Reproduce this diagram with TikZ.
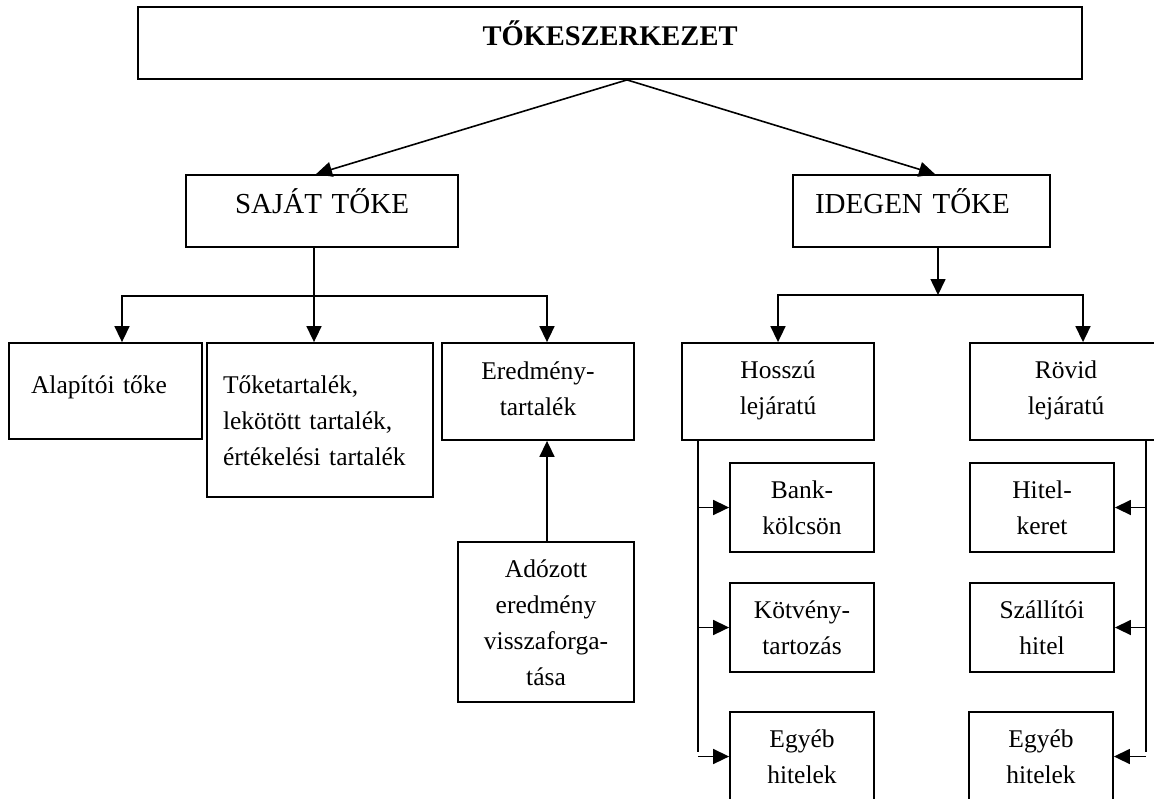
\documentclass[tikz,border=0pt]{standalone}
\usepackage{fontspec}
\setmainfont{Liberation Serif}
\usetikzlibrary{arrows.meta}
\tikzstyle{box} = [rectangle, draw=black, line width=0.9pt, inner sep=0pt, font=\fontsize{12.75}{18}\selectfont]
\tikzstyle{head} = [box, font=\fontsize{14.5}{18}\selectfont]
\tikzstyle{line} = [line width=0.8pt]
\tikzstyle{arrow} = [line width=0.8pt, -{Triangle[length=8pt,width=7.5pt]}]

\begin{document}
\begin{tikzpicture}[x=0.5pt, y=-0.5pt]
		\clip (0,0) rectangle (1154,798);
		% top levels
		\node (tokeszerkezet) [head, font=\bfseries\fontsize{14.25}{18}\selectfont, minimum width=472pt, text width=472pt, align=center, text height=19pt, text depth=17pt] at (610,43) {TŐKESZERKEZET};
		\node (sajat) [head, minimum width=136pt, text width=136pt, align=center, text height=19pt, text depth=17pt] at (322,211) {SAJÁT TŐKE};
		\node (idegen) [head, minimum width=128.5pt, text width=106.5pt, align=left, text height=19pt, text depth=17pt] at (921.5,211) {IDEGEN TŐKE};
		% saját tőke
		\node (alapitoi) [box, minimum width=96.5pt, text width=74.5pt, align=left, text height=25pt, text depth=23pt] at (105.5,391) {Alapítói tőke};
		\node (toketart) [box, minimum width=113pt, text width=97pt, align=left, text height=25pt, text depth=52pt] at (320,420) {Tőketartalék,\\ lekötött tartalék,\\ értékelési tartalék};
		\node (eredmeny) [box, minimum width=96pt, text width=96pt, align=center, text height=18pt, text depth=30.5pt] at (538,391.5) {Eredmény-\\ tartalék};
		\node (adozott) [box, minimum width=88pt, text width=88pt, align=center, text height=17.5pt, text depth=62.5pt] at (546,622) {Adózott\\ eredmény\\ visszaforga-\\ tása};
		% idegen tőke
		\node (hosszu) [box, minimum width=96pt, text width=96pt, align=center, text height=17.5pt, text depth=31pt] at (778,391.5) {Hosszú\\ lejáratú};
		\node (rovid) [box, minimum width=96pt, text width=96pt, align=center, text height=17.5pt, text depth=31pt] at (1066,391.5) {Rövid\\ lejáratú};
		\node (bank) [box, minimum width=72pt, text width=72pt, align=center, text height=17.5pt, text depth=27pt] at (802,507.5) {Bank-\\ kölcsön};
		\node (kotveny) [box, minimum width=72pt, text width=72pt, align=center, text height=17.5pt, text depth=27pt] at (802,627.5) {Kötvény-\\ tartozás};
		\node (egyebL) [box, minimum width=72pt, text width=72pt, align=center, text height=17.5pt, text depth=27pt] at (802,756.5) {Egyéb\\ hitelek};
		\node (hitel) [box, minimum width=72pt, text width=72pt, align=center, text height=17.5pt, text depth=27pt] at (1042,507.5) {Hitel-\\ keret};
		\node (szallitoi) [box, minimum width=72pt, text width=72pt, align=center, text height=17.5pt, text depth=27pt] at (1042,627.5) {Szállítói\\ hitel};
		\node (egyebR) [box, minimum width=72pt, text width=72pt, align=center, text height=17.5pt, text depth=27pt] at (1041,756.5) {Egyéb\\ hitelek};
		\coordinate (sajatfork) at (314,296);
		\coordinate (idegenfork) at (938,295);
		\coordinate (hosszuvonal) at (698,752);
		\coordinate (rovidvonal) at (1146,752);
		\draw [arrow] ([xshift=8.5pt]tokeszerkezet.south) -- ([xshift=-3pt]sajat.north);
		\draw [arrow] ([xshift=8.5pt]tokeszerkezet.south) -- ([xshift=6.75pt]idegen.north);
		\draw [line] (sajatfork |- sajat.south) -- (sajatfork);
		\draw [arrow] (sajatfork) -| ([xshift=8.25pt]alapitoi.north);
		\draw [arrow] (sajatfork) -- (sajatfork |- toketart.north);
		\draw [arrow] (sajatfork) -| ([xshift=4.5pt]eredmeny.north);
		\draw [arrow] ([xshift=0.5pt]adozott.north) -- ([xshift=4.5pt]eredmeny.south);
		\draw [arrow] (idegenfork |- idegen.south) -- (idegenfork);
		\draw [arrow] (idegenfork) -| (hosszu.north);
		\draw [arrow] (idegenfork) -| ([xshift=8.5pt]rovid.north);
		\draw [line] (hosszuvonal |- hosszu.south) -- (hosszuvonal);
		\draw [line] (rovidvonal |- rovid.south) -- (rovidvonal);
		\foreach \n in {bank, kotveny, egyebL}
			\draw [arrow] (hosszuvonal |- \n.west) -- (\n.west);
		\foreach \n in {hitel, szallitoi, egyebR}
			\draw [arrow] (rovidvonal |- \n.east) -- (\n.east);
	\end{tikzpicture}
\end{document}
